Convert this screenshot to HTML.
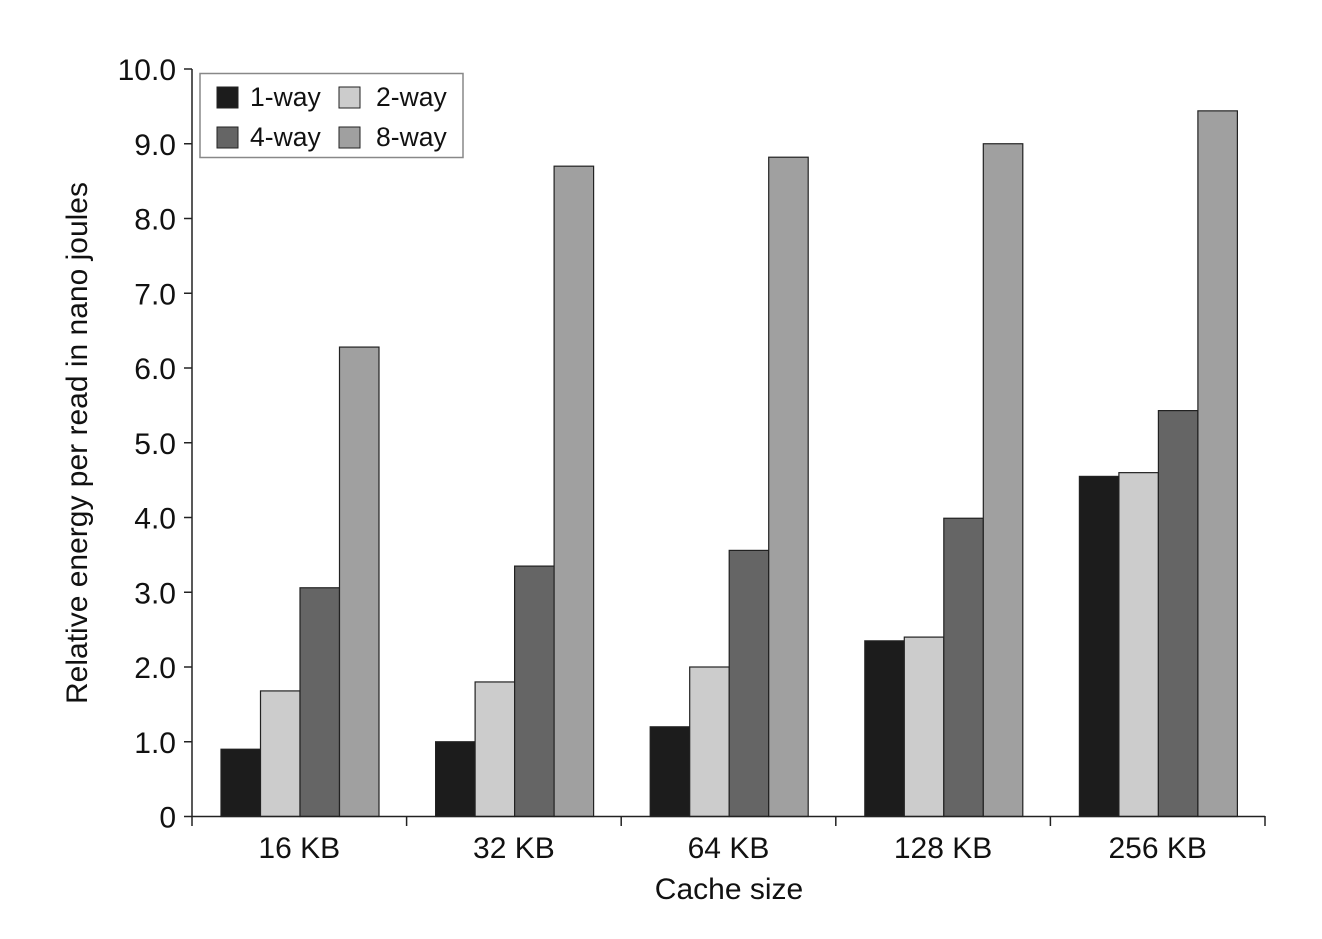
<!DOCTYPE html>
<html><head><meta charset="utf-8"><style>body{margin:0;background:#fff}</style></head><body>
<svg width="1322" height="934" xmlns="http://www.w3.org/2000/svg" font-family="Liberation Sans, sans-serif">
<rect width="1322" height="934" fill="#fff"/>
<g id="bars" stroke="#222" stroke-width="1.2"></g>
<g stroke="#222" stroke-width="1.5" fill="none">
<line x1="192" y1="69" x2="192" y2="817"/>
<line x1="192" y1="816.5" x2="1265" y2="816.5"/>
</g>
<g id="ticks" stroke="#222" stroke-width="1.5"></g>
<g id="labels" font-size="30" fill="#111"></g>
<text x="729" y="899" font-size="30" text-anchor="middle" fill="#111">Cache size</text>
<text transform="translate(87,443) rotate(-90)" font-size="30" text-anchor="middle" fill="#111">Relative energy per read in nano joules</text>
<rect x="200" y="73.5" width="263" height="84" fill="#fff" stroke="#888" stroke-width="1.5"/>
<rect x="217" y="87" width="21" height="21" fill="#1c1c1c" stroke="#222"/>
<text x="250" y="106" font-size="26.5" fill="#111">1-way</text>
<rect x="339" y="87" width="21" height="21" fill="#cccccc" stroke="#222"/>
<text x="376" y="106" font-size="26.5" fill="#111">2-way</text>
<rect x="217" y="127" width="21" height="21" fill="#656565" stroke="#222"/>
<text x="250" y="146" font-size="26.5" fill="#111">4-way</text>
<rect x="339" y="127" width="21" height="21" fill="#a0a0a0" stroke="#222"/>
<text x="376" y="146" font-size="26.5" fill="#111">8-way</text>
<script>
var ns="http://www.w3.org/2000/svg";
function el(p,t,a,txt){var e=document.createElementNS(ns,t);for(var k in a)e.setAttribute(k,a[k]);if(txt)e.textContent=txt;document.getElementById(p).appendChild(e);}
var y0=816.5,u=74.75,cw=214.6,x0=192;
var d=[[0.9,1.68,3.06,6.28],[1.0,1.8,3.35,8.7],[1.2,2.0,3.56,8.82],[2.35,2.4,3.99,9.0],[4.55,4.6,5.43,9.44]];
var cols=["#1c1c1c","#cccccc","#656565","#a0a0a0"];
var names=["16 KB","32 KB","64 KB","128 KB","256 KB"];
for(var i=0;i<5;i++){for(var j=0;j<4;j++){var v=d[i][j],x=x0+i*cw+29+j*39.5;el("bars","rect",{x:x,y:y0-v*u,width:39.5,height:v*u,fill:cols[j]});}
el("labels","text",{x:x0+i*cw+cw/2,y:858,"text-anchor":"middle"},names[i]);}
for(var i=0;i<=5;i++)el("ticks","line",{x1:x0+i*cw,x2:x0+i*cw,y1:816,y2:826});
for(var k=0;k<=10;k++){var y=y0-k*u;el("ticks","line",{x1:184,x2:192,y1:y,y2:y});el("labels","text",{x:176,y:y+11,"text-anchor":"end"},k==0?"0":k.toFixed(1));}
</script>
</svg>
</body></html>
